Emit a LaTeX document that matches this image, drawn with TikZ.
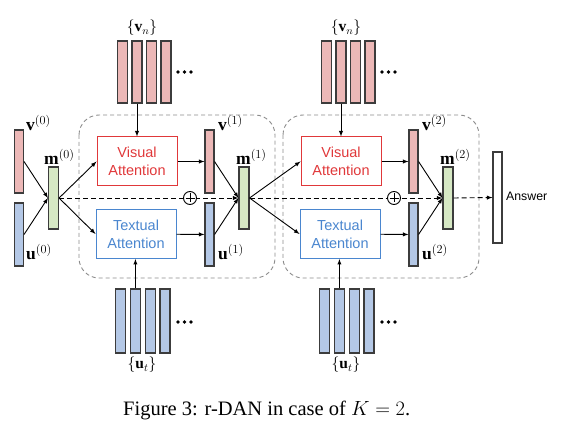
\RequirePackage{fix-cm}
\documentclass[tikz,border=0pt]{standalone}
\usepackage{fontspec}
\setmainfont{Liberation Serif}
\setsansfont{Liberation Sans}
\usetikzlibrary{arrows}

\definecolor{barpink}{RGB}{236,184,183}
\definecolor{barblue}{RGB}{180,200,230}
\definecolor{bargreen}{RGB}{214,232,196}
\definecolor{bargray}{RGB}{60,60,60}
\definecolor{attred}{RGB}{224,56,58}
\definecolor{attblue}{RGB}{74,134,207}
\definecolor{boxgray}{RGB}{140,140,140}

\tikzset{
    bar/.style={draw=bargray, line width=1.1pt, inner sep=0pt, minimum width=10pt, minimum height=62pt},
    vbar/.style={bar, fill=barpink},
    ubar/.style={bar, fill=barblue},
    mbar/.style={bar, fill=bargreen},
    attbox/.style={draw, line width=1pt, inner sep=0pt, minimum width=80pt, minimum height=49pt,
        align=center, font=\sffamily\fontsize{14.5}{18}\selectfont},
    vatt/.style={attbox, draw=attred, text=attred},
    tatt/.style={attbox, draw=attblue, text=attblue},
    lbl/.style={anchor=base west, inner sep=0pt, font=\fontsize{17.5}{20}\selectfont},
    setlbl/.style={inner sep=0pt, font=\fontsize{15.5}{18}\selectfont},
    conn/.style={-latex, line width=0.9pt},
    flow/.style={-latex, line width=0.9pt, dash pattern=on 5pt off 3pt},
    stagebox/.style={draw=boxgray, line width=0.9pt, dash pattern=on 4pt off 3pt, rounded corners=20pt},
    oplus/.style={circle, draw, fill=white, line width=0.9pt, inner sep=0pt, minimum size=13pt,
        path picture={
            \draw[line width=0.9pt] ([yshift=-2pt]path picture bounding box.north) -- ([yshift=2pt]path picture bounding box.south);
            \draw[line width=0.9pt] ([xshift=2pt]path picture bounding box.west) -- ([xshift=-2pt]path picture bounding box.east);
        }},
}

\begin{document}
\begin{tikzpicture}[x=1pt, y=-1pt]
    \useasboundingbox (0,0) rectangle (573,446);

    % Inputs of the first step
    \node[vbar, minimum width=9pt, minimum height=63pt] (v0) at (19,161.5) {};
    \node[ubar, minimum width=9pt, minimum height=63pt] (u0) at (19,234.5) {};
    \node[mbar] (m0) at (53.5,198) {};
    \node[lbl] (v0lbl) at (26,131) {$\mathbf{v}^{(0)}$};
    \node[lbl] (m0lbl) at (44,165) {$\mathbf{m}^{(0)}$};
    \node[lbl] (u0lbl) at (26,260) {$\mathbf{u}^{(0)}$};

    \draw[conn] (v0.east) -- (m0.west);
    \draw[conn] (u0.east) -- (m0.west);

    % The two reasoning steps
    \foreach \k/\j/\dx in {1/0/0, 2/1/204} {
        \draw[stagebox] ({79+\dx},115) rectangle ({275+\dx},278);

        % image regions and words
        \foreach \i in {1,...,4} {
            \node[vbar] (vn\k\i) at ({108+14.5*\i+\dx},72) {};
            \node[ubar, minimum height=64pt] (ut\k\i) at ({105.8+14.8*\i+\dx},321) {};
        }
        \foreach \d in {0,1,2} {
            \fill ({178+6.5*\d+\dx},72) circle (1.8);
            \fill ({178+6.5*\d+\dx},322) circle (1.8);
        }
        \node[setlbl] (vnlbl\k) at ({142+\dx},28) {$\{\mathbf{v}_n\}$};
        \node[setlbl] (utlbl\k) at ({142+\dx},365) {$\{\mathbf{u}_t\}$};

        % attention blocks
        \node[vatt] (va\k) at ({137+\dx},161.5) {Visual\\Attention};
        \node[tatt] (ta\k) at ({136+\dx},234) {Textual\\Attention};

        % attended vectors and memory
        \node[vbar, minimum width=9pt, minimum height=63pt] (v\k) at ({209.5+\dx},161.5) {};
        \node[ubar, minimum width=9pt, minimum height=63pt] (u\k) at ({209.5+\dx},234.5) {};
        \node[mbar] (m\k) at ({244+\dx},198) {};
        \node[lbl] (v\k lbl) at ({218+\dx},131) {$\mathbf{v}^{(\k)}$};
        \node[lbl] (m\k lbl) at ({236+\dx},165) {$\mathbf{m}^{(\k)}$};
        \node[lbl] (u\k lbl) at ({218+\dx},260) {$\mathbf{u}^{(\k)}$};

        \draw[conn] (vn\k2.south) -- (vn\k2.south |- va\k.north);
        \draw[conn] (ut\k2.north) -- (ut\k2.north |- ta\k.south);
        \draw[conn] (m\j.east) -- (va\k.west);
        \draw[conn] (m\j.east) -- (ta\k.west);
        \draw[conn] (va\k) -- (v\k);
        \draw[conn] (ta\k) -- (u\k);
        \draw[conn] (v\k.east) -- (m\k.west);
        \draw[conn] (u\k.east) -- (m\k.west);

        % residual path
        \draw[flow] (m\j.east) -- (m\k.west);
        \node[oplus] (add\k) at ({190+\dx},198) {};
    }

    % Output
    \node[bar, fill=white, minimum width=9pt, minimum height=91pt] (ans) at (497.5,197.5) {};
    \node[anchor=west, inner sep=0pt, font=\sffamily\fontsize{12.3}{14}\selectfont] (anslbl) at (506,196) {Answer};
    \draw[flow] (m2.east) -- (ans.west);

    \node[anchor=base west, inner sep=0pt, font=\fontsize{20.5}{24}\selectfont] (caption) at (123,415)
        {Figure 3: r-DAN in case of $K = 2$.};
\end{tikzpicture}
\end{document}
